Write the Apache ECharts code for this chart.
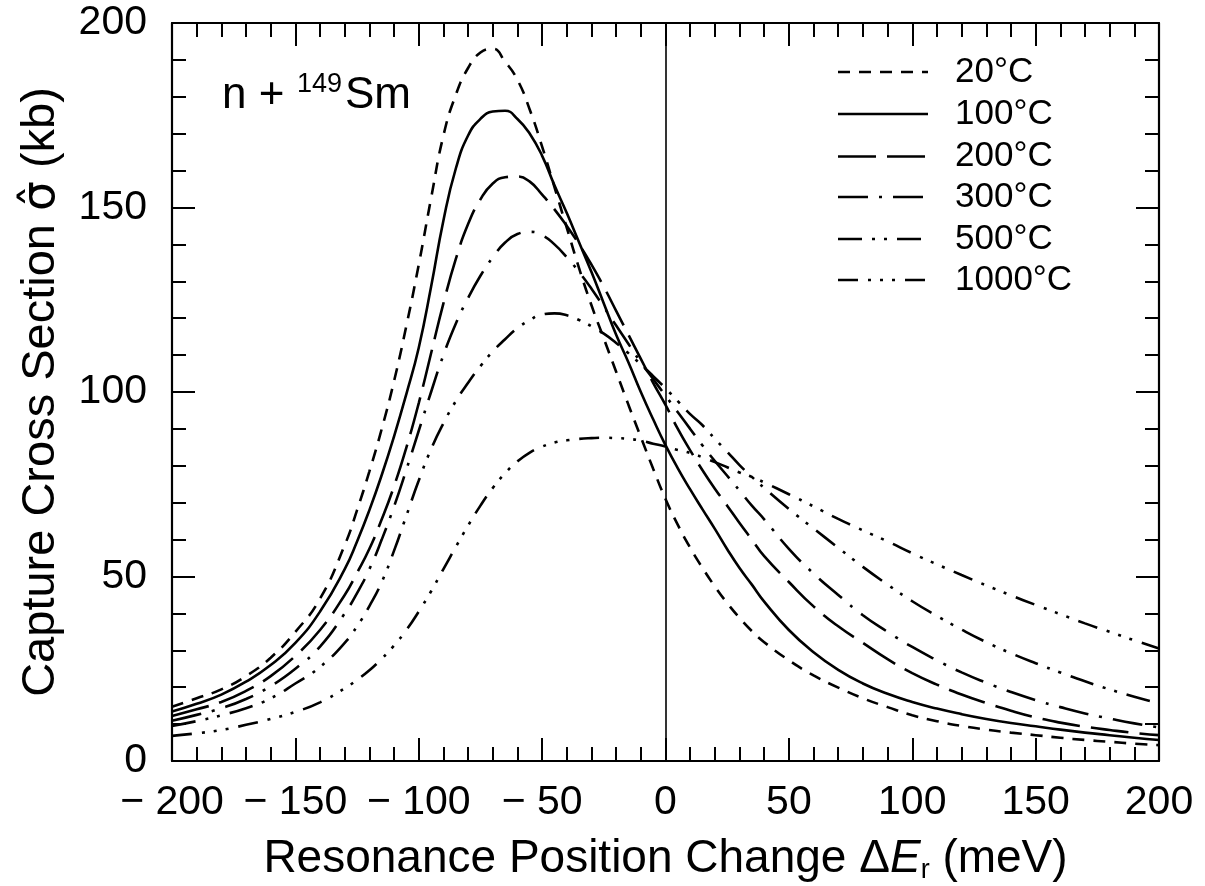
<!DOCTYPE html>
<html><head><meta charset="utf-8">
<script src="https://cdn.jsdelivr.net/npm/echarts@6/dist/echarts.min.js"></script>
<style>html,body{margin:0;padding:0;background:#fff}#c{width:1205px;height:886px}</style>
</head><body><div id="c"></div>
<script>
// Resonance position change (meV)
const xVals = [-200,-190,-180,-170,-160,-150,-140,-130,-125,-120,-115,-110,-105,-100,-95,-90,-85,-80,-75,-70,-65,-60,-55,-50,-45,-40,-35,-30,-25,-20,-15,-10,-5,0,5,10,15,20,25,30,35,40,50,60,70,80,90,100,110,120,130,140,150,160,170,180,190,200];
// Capture cross section (kb) per temperature
const y20 = [14.7,17,19.4,23,28,35,44,58.5,68,78.5,90,103,118,134.5,152.5,169.5,180.5,187.8,192,193,189.5,184.6,176.5,166.5,155.5,144.5,133.5,123.5,114.5,105.5,96.5,87.8,79.2,71,64,57.8,52.3,47.3,42.8,38.8,35.2,32.2,27.3,23.2,19.9,17,14.6,12.4,10.8,9.5,8.5,7.7,7,6.3,5.7,5.2,4.7,4.3];
const y100 = [13.4,15.5,18,21.5,26,32,40.5,52,59.5,68,77.5,88,99.5,112,128.5,146.5,160.5,169.5,174,176,176.2,174,170,164,156,148.5,140.5,132.5,124,115.5,108,100,92.6,85.6,79.3,73.6,68.2,62.9,57.4,52.3,47.8,43.2,35.5,29.5,24.7,21,18.2,16,14.2,12.7,11.4,10.3,9.4,8.5,7.7,7,6.3,5.7];
const y200 = [12.2,14,16,19,23,28.5,35.5,45,51,57.5,65.5,74.5,85,97,110.5,124,136,145.5,152.2,156.5,158.2,158.4,157,153.5,149.5,145,140,134.5,128.5,122,115.5,109,102.5,96.5,90,84.2,78.8,73.8,69.2,64.5,60,55.5,48.5,41.9,36.5,32,27.6,23.8,20.7,18,15.7,13.6,11.8,10.4,9.3,8.4,7.6,7];
const y300 = [10.9,12.5,14.3,16.8,20.3,25,31,40,45.5,52,60,69,79,89.5,100,110,118.5,125.5,131.5,136.5,140.5,142.8,143.4,142.5,140,136.5,132.5,128,123,118,113,108,103.5,99,94.5,90,85.5,81.3,77.3,73.3,69.2,65.5,57.5,50.8,45,39.5,35,30.9,27.3,24,21.2,18.7,16.5,14.6,12.9,11.5,10.2,9.1];
const y500 = [9.5,10.8,12.4,14.3,17,21,25.5,32,36.5,42,48.5,57,66.5,76,84.5,91.5,97.5,102.5,107,111,114.3,117.3,119.5,121,121.3,120.8,119.5,117.8,115.8,113.3,110.5,107.5,104.3,101,97.5,94,91,87.3,83.8,80.2,77,74,68.3,63,57.8,52.6,47.8,43.3,39.3,35.6,32.2,29.2,26.5,24,21.6,19.4,17.4,15.6];
const y1000 = [6.8,7.5,8.4,9.8,11.4,13.3,15.9,19.7,22,24.6,27.7,31.3,35.5,40.5,46,52,58,63.8,69.2,74,78,81.2,83.6,85.2,86.3,86.9,87.3,87.5,87.6,87.5,87.3,86.8,86,85.2,84.3,83.5,82.3,81,79.6,78.2,77,75.5,72.3,69,65.6,62.5,59.5,56.3,53.3,50.4,47.6,44.9,42.3,39.8,37.3,35,32.7,30.5];
const seriesNames = ['20°C','100°C','200°C','300°C','500°C','1000°C'];
const seriesValues = [y20,y100,y200,y300,y500,y1000];

const FONT = '"Liberation Sans", Arial, Helvetica, sans-serif';
const dashStyles = [
  [12, 9],
  'solid',
  [38, 11],
  [30, 11, 3, 11],
  [24, 10, 3, 9, 3, 10],
  [20, 10, 3, 9, 3, 9, 3, 10]
];

const chart = echarts.init(document.getElementById('c'), null, {renderer: 'canvas'});

const series = seriesNames.map((name, i) => {
  const s = {
    name: name,
    type: 'line',
    data: xVals.map((x, k) => [x, seriesValues[i][k]]),
    symbol: 'none',
    smooth: 0.5,
    lineStyle: {color: '#000', width: 2.6, type: dashStyles[i], cap: 'butt'},
    itemStyle: {color: '#000'},
    z: 3
  };
  if (i === 1) {
    s.markLine = {
      silent: true, symbol: 'none', label: {show: false},
      lineStyle: {color: '#000', width: 1.6, type: 'solid'},
      data: [{xAxis: 0}], animation: false
    };
  }
  return s;
});

const commonX = {
  type: 'value', min: -200, max: 200, interval: 50,
  splitLine: {show: false},
  axisLine: {show: true, onZero: false, lineStyle: {color: '#000', width: 2.2}},
  axisTick: {show: true, inside: true, length: 23, lineStyle: {color: '#000', width: 2}},
  minorTick: {show: true, splitNumber: 5, length: 14, lineStyle: {color: '#000', width: 2}},
  minorSplitLine: {show: false}
};
const commonY = {
  type: 'value', min: 0, max: 200, interval: 50,
  splitLine: {show: false},
  axisLine: {show: true, onZero: false, lineStyle: {color: '#000', width: 2.2}},
  axisTick: {show: true, inside: true, length: 23, lineStyle: {color: '#000', width: 2}},
  minorTick: {show: true, splitNumber: 5, length: 14, lineStyle: {color: '#000', width: 2}},
  minorSplitLine: {show: false}
};

// hand-built legend (line samples + labels)
const legendRowsY = [72, 114, 156.5, 197, 239, 280];
const legendGraphic = [];
seriesNames.forEach((name, i) => {
  const st = {stroke: '#000', lineWidth: 2.6, lineCap: 'butt'};
  if (Array.isArray(dashStyles[i])) st.lineDash = dashStyles[i];
  legendGraphic.push({type: 'line', silent: true, shape: {x1: 838, y1: legendRowsY[i], x2: 928, y2: legendRowsY[i]}, style: st});
  legendGraphic.push({type: 'text', silent: true, x: 955, y: legendRowsY[i],
    style: {text: name, fontSize: 35, fontFamily: FONT, fill: '#000', textVerticalAlign: 'middle', textAlign: 'left'}});
});

chart.setOption({
  animation: false,
  backgroundColor: '#fff',
  grid: {left: 172, right: 46, top: 23, bottom: 125, containLabel: false, outerBoundsMode: 'none'},
  xAxis: [
    Object.assign({}, commonX, {
      position: 'bottom',
      axisLabel: {
        fontSize: 41, color: '#000', fontFamily: FONT, margin: 21,
        formatter: v => (v < 0 ? '\u2212 ' + (-v) : String(v))
      },
      name: '{n|Resonance Position Change \u0394}{i|E}{s|r}{n| (meV)}',
      nameLocation: 'middle', nameGap: 73,
      nameTextStyle: {
        color: '#000', fontFamily: FONT, fontSize: 46,
        rich: {
          n: {fontSize: 46, fontFamily: FONT, color: '#000', lineHeight: 50},
          i: {fontSize: 46, fontFamily: FONT, color: '#000', fontStyle: 'italic', lineHeight: 50},
          s: {fontSize: 27, fontFamily: FONT, color: '#000', verticalAlign: 'bottom', lineHeight: 36}
        }
      }
    }),
    Object.assign({}, commonX, {position: 'top', axisLabel: {show: false}})
  ],
  yAxis: [
    Object.assign({}, commonY, {
      position: 'left',
      axisLabel: {fontSize: 41, color: '#000', fontFamily: FONT, margin: 25},
      name: '{n|Capture Cross Section }{g|\u03C3\u0302}{n| (kb)}',
      nameLocation: 'middle', nameGap: 107,
      nameTextStyle: {
        color: '#000', fontFamily: FONT, fontSize: 47,
        rich: {
          n: {fontSize: 47, fontFamily: FONT, color: '#000'},
          g: {fontSize: 47, fontFamily: '"DejaVu Sans", sans-serif', color: '#000'}
        }
      }
    }),
    Object.assign({}, commonY, {position: 'right', axisLabel: {show: false}})
  ],
  graphic: legendGraphic.concat([
    {type: 'text', left: 222, top: 74, style: {text: 'n +', fontSize: 44, fontFamily: FONT, fill: '#000'}},
    {type: 'text', left: 297, top: 71, style: {text: '149', fontSize: 27, fontFamily: FONT, fill: '#000'}},
    {type: 'text', left: 345, top: 74, style: {text: 'Sm', fontSize: 44, fontFamily: FONT, fill: '#000'}}
  ]),
  series: series
});
</script></body></html>
